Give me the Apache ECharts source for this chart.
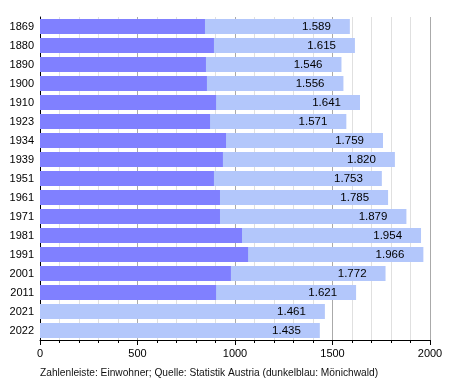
<!DOCTYPE html>
<html><head><meta charset="utf-8">
<script src="https://cdn.jsdelivr.net/npm/echarts@6/dist/echarts.min.js"></script>
<style>html,body{margin:0;padding:0;background:#fff}#c{width:450px;height:380px}</style>
</head><body><div id="c"></div>
<script>
var years = ['1869','1880','1890','1900','1910','1923','1934','1939','1951','1961','1971','1981','1991','2001','2011','2021','2022'];
var totals = [1589,1615,1546,1556,1641,1571,1759,1820,1753,1785,1879,1954,1966,1772,1621,1461,1435];
var moenichwald = [846,892,851,856,903,872,954,938,892,923,923,1036,1067,979,903,0,0];
var xTicks = [0,500,1000,1500,2000];
var caption = 'Zahlenleiste: Einwohner; Quelle: Statistik Austria (dunkelblau: Mönichwald)';

function fmt(v){ var s=String(v); return s.length>3 ? s.slice(0,s.length-3)+'.'+s.slice(-3) : s; }

var chart = echarts.init(document.getElementById('c'));
chart.setOption({
  animation:false,
  textStyle:{fontFamily:'Liberation Sans, Arial, sans-serif'},
  title:{text:caption,left:35,top:363,textStyle:{fontSize:10.2,fontWeight:'normal',color:'#111',fontFamily:'Liberation Sans, Arial, sans-serif'}},
  grid:{left:40,right:20,top:17,bottom:40,containLabel:false},
  xAxis:{type:'value',min:xTicks[0],max:xTicks[xTicks.length-1],interval:500,
    axisLine:{show:true,lineStyle:{color:'#000',width:1}},
    axisTick:{show:true,length:5,lineStyle:{color:'#000'}},
    minorTick:{show:true,splitNumber:5,length:3,lineStyle:{color:'#000'}},
    axisLabel:{color:'#000',fontSize:11,margin:8,formatter:function(v){return String(v);}},
    splitLine:{show:true,lineStyle:{color:'#aaa',width:1}},
    minorSplitLine:{show:true,lineStyle:{color:'#e0e0e0',width:1}}
  },
  yAxis:{type:'category',data:years,inverse:true,
    axisLine:{show:true,lineStyle:{color:'#000',width:1}},
    axisTick:{show:false},
    axisLabel:{color:'#000',fontSize:11,margin:6}
  },
  series:[
    {type:'bar',data:totals,barCategoryGap:'20%',barGap:'-100%',
     itemStyle:{color:'#b3c7fb'},
     label:{show:true,position:'insideRight',distance:19,color:'#000',fontSize:11.5,
       formatter:function(p){return fmt(p.value);}},
     z:2},
    {type:'bar',data:moenichwald,barCategoryGap:'20%',barGap:'-100%',
     itemStyle:{color:'#8080ff'},z:3}
  ]
});
</script></body></html>
